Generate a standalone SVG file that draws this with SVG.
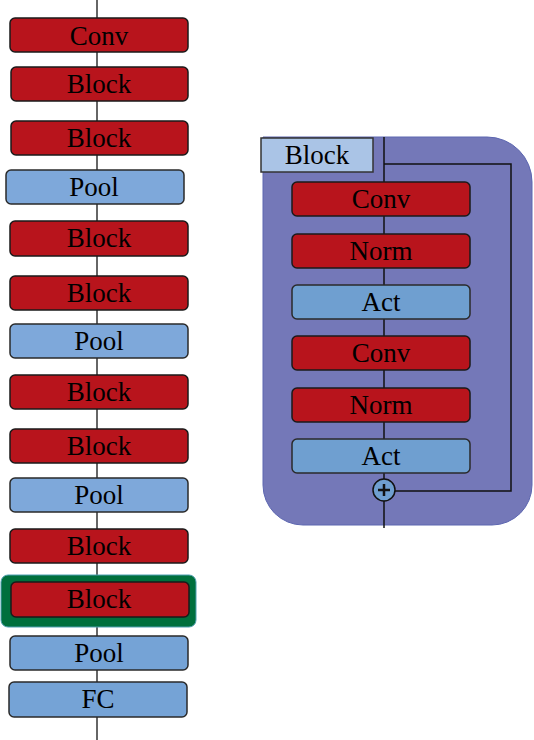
<svg xmlns="http://www.w3.org/2000/svg" width="534" height="740" viewBox="0 0 534 740">
<style>
.r{fill:#b8141c;stroke:#1a1a1a;stroke-width:1.5}
.b{fill:#75a3d6;stroke:#2a2a2a;stroke-width:1.5}
.t{font-family:"Liberation Serif",serif;font-size:27px;fill:#000;text-anchor:middle}
.ln{stroke:#333;stroke-width:1.5;fill:none}
</style>
<rect width="534" height="740" fill="#fff"/>
<g id="container">
<path d="M263 137 H487 A45 45 0 0 1 532 182 V485 A40 40 0 0 1 492 525 H303 A40 40 0 0 1 263 485 Z" fill="#7478b8" stroke="#5c66b0" stroke-width="1"/>
</g>
<g id="connectors">
<line class="ln" x1="97" y1="0" x2="97" y2="740"/>
<line class="ln" x1="384" y1="137" x2="384" y2="528" style="stroke:#111"/>
<polyline class="ln" points="384,164 511,164 511,491 395,491" style="stroke:#111"/>
</g>
<g id="n-conv"><rect class="r" x="10" y="18" width="178" height="34" rx="5"/><text class="t" x="99" y="45">Conv</text></g>
<g id="n-block1"><rect class="r" x="11" y="67" width="177" height="34" rx="5"/><text class="t" x="99" y="93">Block</text></g>
<g id="n-block2"><rect class="r" x="11" y="121" width="177" height="34" rx="5"/><text class="t" x="99" y="147">Block</text></g>
<g id="n-pool1"><rect class="b" x="6" y="170" width="178" height="34" rx="5" style="fill:#7ea8da"/><text class="t" x="94" y="196">Pool</text></g>
<g id="n-block3"><rect class="r" x="10" y="221" width="178" height="35" rx="5"/><text class="t" x="99" y="247">Block</text></g>
<g id="n-block4"><rect class="r" x="10" y="276" width="178" height="34" rx="5"/><text class="t" x="99" y="302">Block</text></g>
<g id="n-pool2"><rect class="b" x="10" y="324" width="178" height="34" rx="5" style="fill:#7ea8da"/><text class="t" x="99" y="350">Pool</text></g>
<g id="n-block5"><rect class="r" x="10" y="375" width="178" height="34" rx="5"/><text class="t" x="99" y="401">Block</text></g>
<g id="n-block6"><rect class="r" x="10" y="429" width="178" height="34" rx="5"/><text class="t" x="99" y="455">Block</text></g>
<g id="n-pool3"><rect class="b" x="10" y="478" width="178" height="34" rx="5" style="fill:#7ea8da"/><text class="t" x="99" y="504">Pool</text></g>
<g id="n-block7"><rect class="r" x="10" y="529" width="178" height="34" rx="5"/><text class="t" x="99" y="555">Block</text></g>
<g id="n-block8">
<rect x="1" y="575" width="195" height="52" rx="7" fill="#006f3c" stroke="#4f9fb0" stroke-width="1"/>
<rect class="r" x="11" y="582" width="178" height="35" rx="5"/><text class="t" x="99" y="608">Block</text></g>
<g id="n-pool4"><rect class="b" x="10" y="636" width="178" height="34" rx="5"/><text class="t" x="99" y="662">Pool</text></g>
<g id="n-fc"><rect class="b" x="9" y="682" width="178" height="35" rx="5"/><text class="t" x="98" y="708">FC</text></g>
<g id="n-blocklabel"><rect x="261" y="138" width="112" height="34" fill="#aac4e6" stroke="#333" stroke-width="1.5"/><text class="t" x="317" y="164">Block</text></g>
<g id="n-iconv1"><rect class="r" x="292" y="182" width="178" height="34" rx="5"/><text class="t" x="381" y="208">Conv</text></g>
<g id="n-inorm1"><rect class="r" x="292" y="234" width="178" height="34" rx="5"/><text class="t" x="381" y="260">Norm</text></g>
<g id="n-iact1"><rect class="b" x="292" y="285" width="178" height="34" rx="5" style="fill:#6f9fd0"/><text class="t" x="381" y="311">Act</text></g>
<g id="n-iconv2"><rect class="r" x="292" y="336" width="178" height="34" rx="5"/><text class="t" x="381" y="362">Conv</text></g>
<g id="n-inorm2"><rect class="r" x="292" y="388" width="178" height="34" rx="5"/><text class="t" x="381" y="414">Norm</text></g>
<g id="n-iact2"><rect class="b" x="292" y="439" width="178" height="34" rx="5" style="fill:#6f9fd0"/><text class="t" x="381" y="465">Act</text></g>
<g id="n-add">
<circle cx="384" cy="490" r="11" fill="#6f9fd0" stroke="#111" stroke-width="1.5"/>
<line x1="378" y1="490" x2="390" y2="490" stroke="#111" stroke-width="2.5"/>
<line x1="384" y1="484" x2="384" y2="496" stroke="#111" stroke-width="2.5"/>
</g>
</svg>
